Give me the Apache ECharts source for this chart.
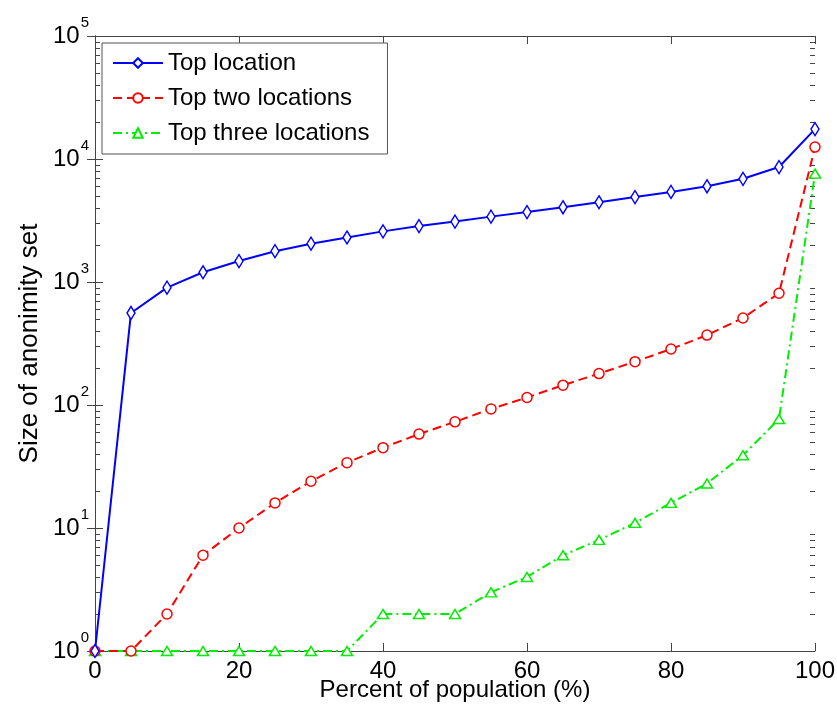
<!DOCTYPE html>
<html><head><meta charset="utf-8">
<script src="https://cdn.jsdelivr.net/npm/echarts@6/dist/echarts.min.js"></script>
<style>html,body{margin:0;padding:0;background:#fff}#c{width:837px;height:716px}</style>
</head><body><div id="c"></div>
<script>
const xCats = [0,5,10,15,20,25,30,35,40,45,50,55,60,65,70,75,80,85,90,95,100];
const topLocation = [1,560,900,1200,1480,1780,2050,2300,2580,2850,3100,3400,3700,4050,4450,4900,5400,6000,6900,8600,17500];
const topTwo = [1,1,2,6,10,16,24,34,45,58,73,93,115,145,180,225,285,370,510,810,12500];
const topThree = [1,1,1,1,1,1,1,1,2,2,2,3,4,6,8,11,16,23,39,77,7600];
const seriesNames = ['Top location','Top two locations','Top three locations'];
const yMin = 1, yMax = 100000;

const minorVals = [];
for (let k = 0; k < 5; k++) for (let m = 2; m <= 9; m++) minorVals.push(m * Math.pow(10, k));

const font = 'Liberation Sans, Arial, Helvetica, sans-serif';
const pair = (vals) => xCats.map((x, i) => [x, vals[i]]);
const axisCol = '#444';

const chart = echarts.init(document.getElementById('c'));
chart.setOption({
  animation: false,
  backgroundColor: '#fff',
  grid: {left: 95, right: 22, top: 36, bottom: 65, show: false, containLabel: false, outerBoundsMode: 'none'},
  legend: {
    data: seriesNames,
    orient: 'vertical',
    left: 102, top: 43,
    padding: [8, 18, 9, 10],
    itemGap: 11,
    itemWidth: 50, itemHeight: 12,
    borderColor: '#555', borderWidth: 1,
    backgroundColor: '#fff',
    textStyle: {fontFamily: font, fontSize: 24, color: '#000'}
  },
  xAxis: [{
    type: 'value', min: 0, max: 100, interval: 20,
    position: 'bottom',
    axisLine: {show: true, lineStyle: {color: axisCol, width: 1}},
    axisTick: {inside: true, length: 8, lineStyle: {color: axisCol}},
    axisLabel: {fontFamily: font, fontSize: 24, color: '#000', margin: 8},
    splitLine: {show: false},
    name: 'Percent of population (%)', nameLocation: 'middle', nameGap: 27,
    nameMoveOverlap: false,
    nameTextStyle: {fontFamily: font, fontSize: 24, color: '#000', verticalAlign: 'top'}
  }, {
    type: 'value', min: 0, max: 100, interval: 20,
    position: 'top',
    axisLine: {show: true, lineStyle: {color: axisCol, width: 1}},
    axisTick: {inside: true, length: 8, lineStyle: {color: axisCol}},
    axisLabel: {show: false}, splitLine: {show: false}
  }],
  yAxis: [{
    type: 'log', logBase: 10, min: yMin, max: yMax,
    position: 'left',
    axisLine: {show: true, lineStyle: {color: axisCol, width: 1}},
    axisTick: {inside: true, length: 8, lineStyle: {color: axisCol}},
    axisLabel: {
      fontFamily: font, color: '#000', margin: 6,
      formatter: v => '{b|10}{s|' + Math.round(Math.log10(v)) + '}',
      rich: {
        b: {fontFamily: font, fontSize: 24, color: '#000'},
        s: {fontFamily: font, fontSize: 15, color: '#000', padding: [0,0,27,1]}
      }
    },
    splitLine: {show: false},
    name: 'Size of anonimity set', nameLocation: 'middle', nameGap: 52,
    nameMoveOverlap: false,
    nameTextStyle: {fontFamily: font, fontSize: 26, color: '#000'}
  }, {
    type: 'log', logBase: 10, min: yMin, max: yMax,
    position: 'right',
    axisLine: {show: true, lineStyle: {color: axisCol, width: 1}},
    axisTick: {inside: true, length: 8, lineStyle: {color: axisCol}},
    axisLabel: {show: false}, splitLine: {show: false}
  }],
  series: [{
    name: seriesNames[0], type: 'line', data: pair(topLocation),
    color: '#0000ff',
    symbol: 'diamond', symbolSize: [8, 13],
    lineStyle: {width: 2, color: '#0000ff'},
    itemStyle: {color: '#fff', borderColor: '#0000ff', borderWidth: 1.5},
    z: 5
  }, {
    name: seriesNames[1], type: 'line', data: pair(topTwo),
    color: '#ff0000',
    symbol: 'circle', symbolSize: 10,
    lineStyle: {width: 2, color: '#ff0000', type: [9, 5]},
    itemStyle: {color: '#fff', borderColor: '#ff0000', borderWidth: 1.5},
    z: 4
  }, {
    name: seriesNames[2], type: 'line', data: pair(topThree),
    color: '#00ee00',
    symbol: 'triangle', symbolSize: [11, 9],
    lineStyle: {width: 2, color: '#00ee00', type: [9, 4, 2, 4]},
    itemStyle: {color: '#fff', borderColor: '#00ee00', borderWidth: 1.5},
    z: 3
  }, {
    type: 'custom', silent: true, clip: false, z: 1,
    xAxisIndex: 0, yAxisIndex: 0,
    data: minorVals.map(v => [0, v]),
    renderItem: (params, api) => {
      const v = api.value(1);
      const l = api.coord([0, v]);
      const r = api.coord([100, v]);
      const y = Math.round(l[1]) + 0.5;
      return {type: 'group', children: [
        {type: 'line', shape: {x1: l[0], y1: y, x2: l[0] + 5, y2: y}, style: {stroke: axisCol, lineWidth: 1}},
        {type: 'line', shape: {x1: r[0], y1: y, x2: r[0] - 5, y2: y}, style: {stroke: axisCol, lineWidth: 1}}
      ]};
    }
  }]
});
</script>
</body></html>
